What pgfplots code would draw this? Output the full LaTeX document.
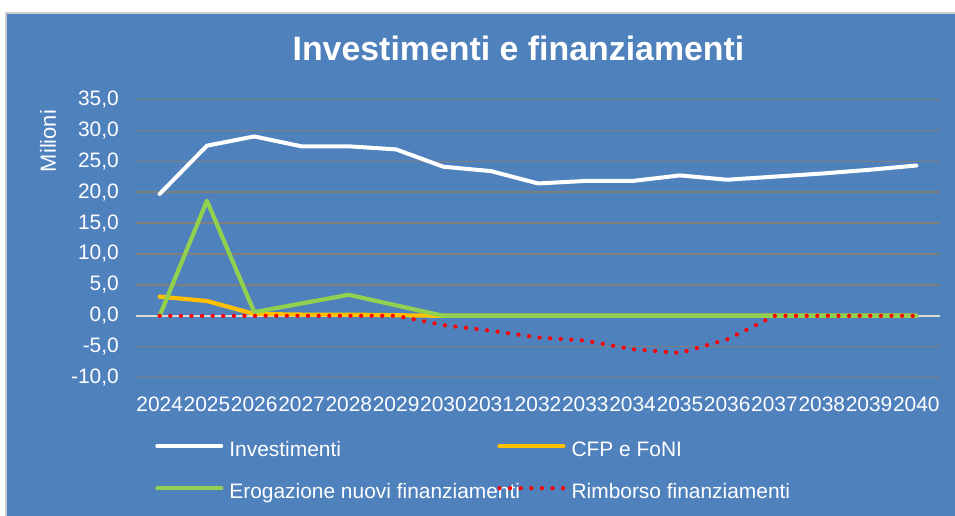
\documentclass[border=0pt]{standalone}
\usepackage{pgfplots}
\pgfplotsset{compat=1.18}
\usepackage{fontspec}
\setmainfont{Liberation Sans}
\definecolor{bg}{HTML}{4F81BD}
\definecolor{gridc}{HTML}{7F7F7F}
\definecolor{zeroc}{HTML}{D9D9D9}
\definecolor{orangec}{HTML}{FFC000}
\definecolor{greenc}{HTML}{92D050}
\definecolor{redc}{HTML}{FF0000}
\begin{document}
\begin{tikzpicture}[x=1bp,y=1bp]
\useasboundingbox (0,0) rectangle (955,-516);
\fill[white] (0,0) rectangle (955,-516);
\fill[bg] (6,-13) rectangle (955,-516);
\draw[black!20, line width=1.5bp] (6,-516) -- (6,-13) -- (955,-13);
\node[white, font=\fontsize{34}{40}\selectfont\bfseries, anchor=base] at (518.5,-61) {Investimenti e finanziamenti};
\node[white, font=\fontsize{22}{26}\selectfont, rotate=90] at (48,-141) {Milioni};
\begin{axis}[
  at={(136bp,-377.7bp)}, anchor=south west,
  scale only axis, width=804bp, height=278.4bp,
  xmin=2023.5, xmax=2040.5, ymin=-10, ymax=35,
  axis line style={draw=none},
  major tick length=0pt,
  ytick={-10,-5,0,5,10,15,20,25,30,35},
  yticklabels={{-10,0},{-5,0},{0,0},{5,0},{10,0},{15,0},{20,0},{25,0},{30,0},{35,0}},
  xtick={2024,2025,2026,2027,2028,2029,2030,2031,2032,2033,2034,2035,2036,2037,2038,2039,2040},
  xticklabels={2024,2025,2026,2027,2028,2029,2030,2031,2032,2033,2034,2035,2036,2037,2038,2039,2040},
  ymajorgrids, grid style={gridc, line width=1.3bp},
  extra y ticks={0}, extra y tick labels={},
  extra y tick style={grid style={zeroc, line width=1.6bp}},
  tick label style={white, font=\fontsize{21}{25}\selectfont},
  yticklabel style={anchor=east, inner sep=0pt, xshift=-17bp},
  xticklabel style={anchor=north, inner sep=0pt, yshift=-19bp},
  legend columns=2,
  legend cell align=left,
  legend style={draw=none, fill=none, at={(0.0236,-0.2274)}, anchor=north west,
    inner sep=0pt, column sep=6bp, row sep=22bp,
    font=\fontsize{21}{25}\selectfont, text=white,
    nodes={inner sep=0pt, text height=15bp, text depth=5bp}},
  legend image code/.code={\draw[#1] (0bp,5bp) -- (64bp,5bp); \path (0bp,0bp);},
  line join=round,
]
\addplot[white, line width=4bp, line cap=round] coordinates {
(2024,19.7)(2025,27.5)(2026,29.0)(2027,27.4)(2028,27.4)(2029,26.9)(2030,24.1)(2031,23.4)(2032,21.4)(2033,21.8)(2034,21.8)(2035,22.7)(2036,22.0)(2037,22.5)(2038,23.0)(2039,23.6)(2040,24.3)};
\addlegendentry{\makebox[262bp][l]{Investimenti}}
\addplot[orangec, line width=4.2bp, line cap=round] coordinates {
(2024,3.1)(2025,2.4)(2026,0.3)(2027,0.2)(2028,0.2)(2029,0.1)(2030,0)(2031,0)(2032,0)(2033,0)(2034,0)(2035,0)(2036,0)(2037,0)(2038,0)(2039,0)(2040,0)};
\addlegendentry{CFP e FoNI}
\addplot[greenc, line width=4.2bp, line cap=round] coordinates {
(2024,0)(2025,18.6)(2026,0.6)(2027,2.0)(2028,3.4)(2029,1.7)(2030,0)(2031,0)(2032,0)(2033,0)(2034,0)(2035,0)(2036,0)(2037,0)(2038,0)(2039,0)(2040,0)};
\addlegendentry{\makebox[262bp][l]{Erogazione nuovi finanziamenti}}
\addplot[redc, line width=4.2bp, line cap=round, dash pattern=on 0bp off 10.6bp] coordinates {
(2024,0)(2025,0)(2026,0)(2027,0)(2028,0)(2029,0)(2030,-1.5)(2031,-2.4)(2032,-3.5)(2033,-4.0)(2034,-5.4)(2035,-6.0)(2036,-3.8)(2037,0)(2038,0)(2039,0)(2040,0)};
\addlegendentry{Rimborso finanziamenti}
\end{axis}
\end{tikzpicture}
\end{document}
